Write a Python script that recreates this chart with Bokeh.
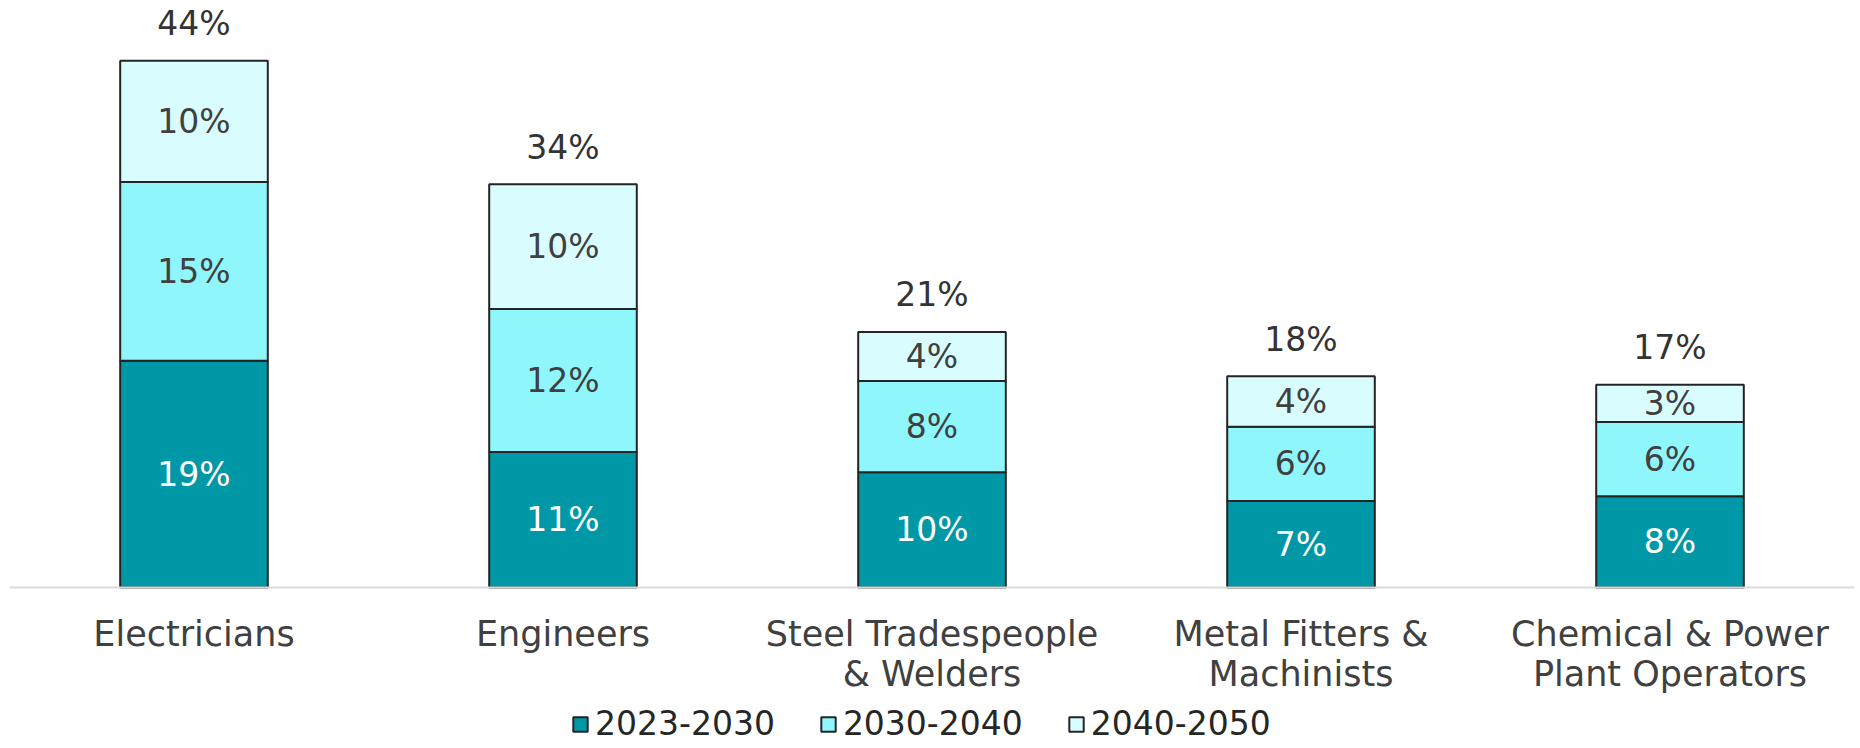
from bokeh.plotting import figure
from bokeh.models import FactorRange, ColumnDataSource, Legend, LegendItem, Span
from bokeh.core.properties import value
from bokeh.embed import file_html
from bokeh.resources import INLINE

categories = ["Electricians", "Engineers", "Steel Tradespeople\n& Welders",
              "Metal Fitters &\nMachinists", "Chemical & Power\nPlant Operators"]
series_names = ["2023-2030", "2030-2040", "2040-2050"]
s2023_2030 = [18.9, 11.3, 9.6, 7.2, 7.6]
s2030_2040 = [14.9, 11.9, 7.6, 6.2, 6.2]
s2040_2050 = [10.1, 10.4, 4.1, 4.2, 3.1]
colors = ["#0098A6", "#8FF6FB", "#D9FCFE"]

FONT = "DejaVu Sans"
FS = "33px"

data = {"cat": categories, "a": s2023_2030, "b": s2030_2040, "c": s2040_2050}
src = ColumnDataSource(data)

PX_PER_UNIT = 12.0
p = figure(x_range=FactorRange(*categories, range_padding=0),
           y_range=(-(748 - 587) / PX_PER_UNIT, 587 / PX_PER_UNIT),
           frame_width=1845, frame_height=748, output_backend="svg", toolbar_location=None,
           min_border_left=9, min_border_right=6, min_border_top=0, min_border_bottom=0,
           x_axis_location=None, y_axis_location=None)
p.x_range.range_padding = 0
p.xgrid.visible = False
p.ygrid.visible = False
p.outline_line_color = None

rs = p.vbar_stack(["a", "b", "c"], x="cat", width=0.4, source=src,
                  fill_color=colors, line_color="#242424", line_width=2)

# baseline (category axis line)
p.add_layout(Span(location=0, dimension="width", line_color="#D9D9D9", line_width=2))

# category labels
p.text(x=categories, y=[0] * len(categories), text=categories, text_color="#404040",
       text_align="center", text_baseline="top", y_offset=26, text_line_height=1.02,
       text_font=value(FONT), text_font_size="35px")

# segment labels
lab = {"x": [], "y": [], "t": [], "col": []}
for i, cat in enumerate(categories):
    base = 0.0
    for vals, tc in ((s2023_2030, "#ffffff"), (s2030_2040, "#404040"), (s2040_2050, "#404040")):
        v = vals[i]
        lab["x"].append(cat)
        lab["y"].append(base + v / 2)
        lab["t"].append(f"{round(v):d}%")
        lab["col"].append(tc)
        base += v
lsrc = ColumnDataSource(lab)
p.text(x="x", y="y", text="t", source=lsrc, text_color="col", text_align="center",
       text_baseline="middle", text_font=value(FONT), text_font_size=FS)

totals = [a + b + c for a, b, c in zip(s2023_2030, s2030_2040, s2040_2050)]
tsrc = ColumnDataSource({"x": categories, "y": totals, "t": [f"{round(t):d}%" for t in totals]})
p.text(x="x", y="y", text="t", source=tsrc, text_color="#333333", text_align="center",
       text_baseline="middle", y_offset=-37, text_font=value(FONT), text_font_size=FS)

legend = Legend(items=[LegendItem(label=n, renderers=[r]) for n, r in zip(series_names, rs)],
                orientation="horizontal", location=(562, 5),
                label_text_font=FONT, label_text_font_size="33px", label_text_color="#262626",
                label_height=30, label_width=20,
                glyph_width=18, glyph_height=18, label_standoff=6, spacing=44,
                padding=0, margin=0, border_line_color=None, background_fill_color=None)
p.add_layout(legend, "center")

open("out.html", "w").write(file_html(p, INLINE))
